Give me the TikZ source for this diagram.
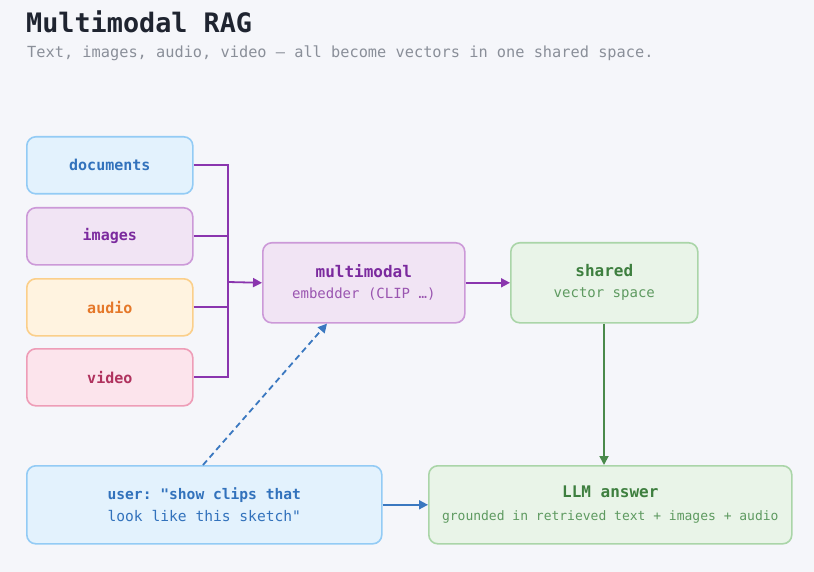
\documentclass[tikz,border=0pt]{standalone}
\usepackage{fontspec}
\setmonofont{DejaVu Sans Mono}
\renewcommand{\familydefault}{\ttdefault}
\usetikzlibrary{arrows.meta}

\definecolor{bgc}{HTML}{F5F6FA}
\definecolor{titlec}{HTML}{1F2430}
\definecolor{subc}{HTML}{8A8F99}
\definecolor{blfill}{HTML}{E3F2FD}\definecolor{bldraw}{HTML}{93CBF5}\definecolor{bltext}{HTML}{3272BC}
\definecolor{pufill}{HTML}{F1E4F4}\definecolor{pudraw}{HTML}{CC99D8}\definecolor{putext}{HTML}{7B2A9E}\definecolor{pusub}{HTML}{9A55B0}
\definecolor{orfill}{HTML}{FFF3E0}\definecolor{ordraw}{HTML}{FBCF8A}\definecolor{ortext}{HTML}{E5782A}
\definecolor{pkfill}{HTML}{FCE4EC}\definecolor{pkdraw}{HTML}{EE9DB7}\definecolor{pktext}{HTML}{B0325E}
\definecolor{grfill}{HTML}{E9F4E8}\definecolor{grdraw}{HTML}{AAD5A8}\definecolor{grtext}{HTML}{3E7F3F}\definecolor{grsub}{HTML}{5E9A60}
\definecolor{puline}{HTML}{8A35AE}
\definecolor{grline}{HTML}{4A8A4B}
\definecolor{blline}{HTML}{3A78C0}

\tikzset{
  x=1pt, y=-1pt,
  box/.style={draw, line width=1.6pt, rounded corners=9pt, inner sep=0pt, align=center, anchor=north west},
  srcbox/.style={box, minimum width=166pt, minimum height=57pt},
  bigbox/.style={box, minimum width=202pt, minimum height=80pt},
  wire/.style={draw=puline, line width=1.8pt},
  conn/.style={line width=1.8pt, -{Triangle[length=9pt,width=9pt]}},
}
\newcommand{\lbl}{\bfseries\fontsize{15}{18}\selectfont}
\newcommand{\ttl}{\bfseries\fontsize{16}{20}\selectfont}
\newcommand{\sbt}{\fontsize{14}{18}\selectfont}

\begin{document}
\begin{tikzpicture}
\fill[bgc] (0,0) rectangle (814,572);
\useasboundingbox (0,0) rectangle (814,572);

% heading
\node[anchor=base west, inner sep=0pt, text=titlec, font=\bfseries\fontsize{26.8}{30}\selectfont] (title) at (26,33) {Multimodal RAG};
\node[anchor=base west, inner sep=0pt, text=subc, font=\fontsize{15.3}{18}\selectfont] (subtitle) at (27,58) {Text, images, audio, video — all become vectors in one shared space.};

% source modalities
\node[srcbox, fill=blfill, draw=bldraw, text=bltext] (docs) at (26,136) {\lbl documents};
\node[srcbox, fill=pufill, draw=pudraw, text=putext] (imgs) at (26,207) {\lbl images};
\node[srcbox, fill=orfill, draw=ordraw, text=ortext] (aud) at (26,278) {\lbl audio};
\node[srcbox, fill=pkfill, draw=pkdraw, text=pktext] (vid) at (26,348) {\lbl video};

% embedder and vector space
\node[bigbox, fill=pufill, draw=pudraw] (emb) at (262,242)
  {{\ttl\color{putext}multimodal}\\[9pt]{\sbt\color{pusub}embedder (CLIP …)}};
\node[box, minimum width=187pt, minimum height=80pt, fill=grfill, draw=grdraw] (vec) at (510,242)
  {{\ttl\color{grtext}shared}\\[9pt]{\sbt\color{grsub}vector space}};

% query and answer
\node[box, minimum width=355pt, minimum height=78pt, fill=blfill, draw=bldraw, text=bltext] (user) at (26,465)
  {{\bfseries\fontsize{14.6}{18}\selectfont user: "show clips that}\\[7pt]{\fontsize{14.6}{18}\selectfont look like this sketch"}};
\node[box, minimum width=363pt, minimum height=78pt, fill=grfill, draw=grdraw] (ans) at (428,465)
  {{\ttl\color{grtext}LLM answer}\\[11pt]{\fontsize{13}{16}\selectfont\color{grsub}grounded in retrieved text + images + audio}};

% bus joining the modalities
\coordinate (bus) at (228,282);
\draw[wire] (docs.east) -- (docs.east -| bus) -- (vid.east -| bus) -- (vid.east);
\draw[wire] (imgs.east) -- (imgs.east -| bus);
\draw[wire] (aud.east) -- (aud.east -| bus);
\draw[conn, puline] (bus) -- (emb.west);
\draw[conn, puline] (emb.east) -- (vec.west);
\draw[conn, grline] (vec.south -| 604,0) -- (ans.north -| 604,0);
\draw[conn, blline] (user.east) -- (ans.west);
\draw[conn, blline, dashed, dash pattern=on 6pt off 4pt] (user.north -| 203,0) -- (emb.south -| 327,0);
\end{tikzpicture}
\end{document}
